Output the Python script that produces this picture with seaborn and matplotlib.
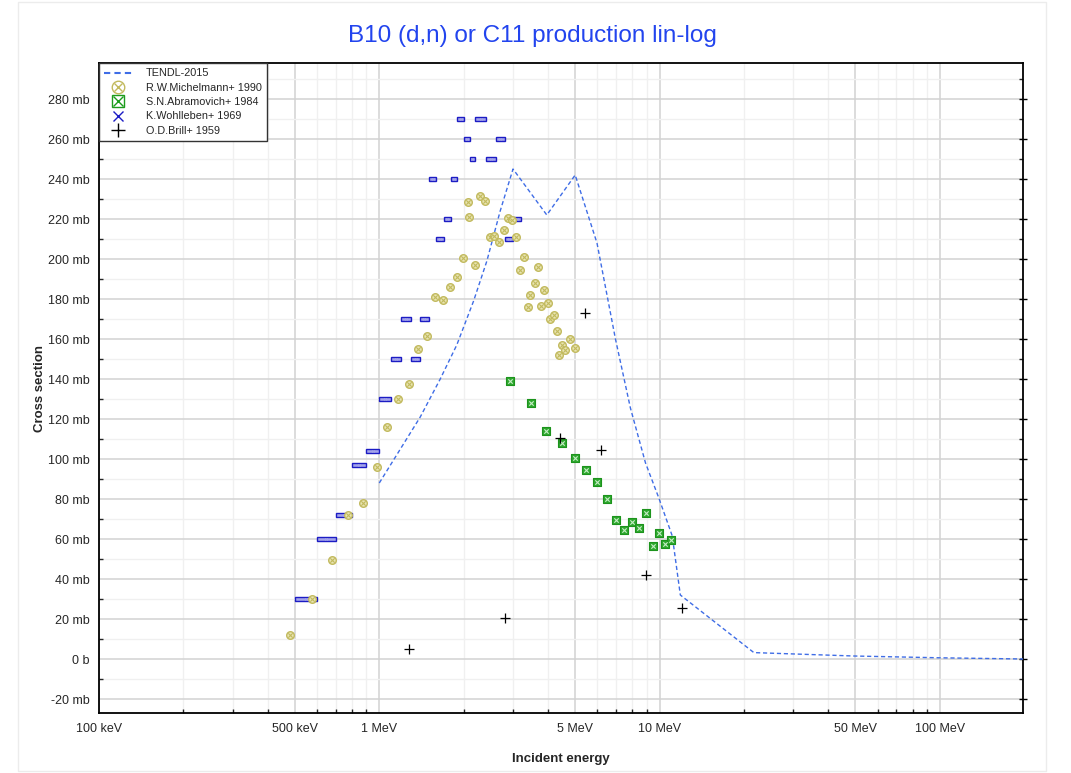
import numpy as np
import pandas as pd
import seaborn as sns
import matplotlib
matplotlib.use('Agg')
from matplotlib import pyplot as plt
from matplotlib.ticker import FixedLocator, MultipleLocator
from matplotlib.lines import Line2D
from matplotlib.patches import Rectangle
from matplotlib.legend_handler import HandlerTuple

# TENDL-2015 evaluation (energy in MeV, cross section in mb)
tendl_e = [1.0, 1.4, 1.65, 1.89, 2.17, 2.42, 2.70, 3.0, 3.96, 5.0, 5.98, 6.96,
           7.87, 8.91, 9.94, 11.1, 11.86, 21.7, 49.3, 100.0, 198.0]
tendl_xs = [88, 121, 140, 157, 179, 199, 224, 245, 222, 242, 208, 160,
            125.5, 98, 80.5, 61.5, 32, 3.2, 1.5, 0.6, 0.0]

# R.W.Michelmann+ 1990
mich_e = [0.479, 0.576, 0.676, 0.771, 0.874, 0.979, 1.065, 1.169, 1.274, 1.375,
          1.476, 1.577, 1.684, 1.784, 1.89, 1.986, 2.074, 2.086, 2.197, 2.284,
          2.385, 2.48, 2.57, 2.676, 2.78, 2.875, 2.97, 3.08, 3.17, 3.28,
          3.38, 3.45, 3.58, 3.68, 3.78, 3.88, 4.0, 4.08, 4.2, 4.29,
          4.38, 4.49, 4.59, 4.79, 5.0]
mich_xs = [12, 30, 49.5, 72, 78, 96, 116, 130, 137.5, 155,
           161.5, 181, 179.5, 186, 191, 200.5, 228.5, 221, 197, 231.5,
           229, 211, 211.5, 208.7, 214.3, 220.7, 219.5, 211, 194.5, 201,
           176, 182, 188, 196, 176.5, 184.7, 178, 170, 172, 164,
           152, 157, 154.5, 160, 155.7]

# S.N.Abramovich+ 1984
abra_e = [2.92, 3.47, 3.93, 4.48, 4.99, 5.47, 5.96, 6.47, 6.97, 7.48, 7.99,
          8.48, 8.97, 9.47, 9.98, 10.45, 10.95]
abra_xs = [138.8, 127.8, 113.8, 107.8, 100.7, 94.7, 88.5, 79.8, 69.5, 64.3,
           68.7, 65.5, 73, 56.3, 63.2, 57.3, 59.7]

# K.Wohlleben+ 1969 (energy bins)
wohl_lo = [0.5, 0.6, 0.7, 0.8, 0.9, 1.0, 1.1, 1.2, 1.3, 1.4, 1.5, 1.6, 1.7,
           1.8, 1.9, 2.0, 2.1, 2.2, 2.4, 2.6, 2.8, 3.0]
wohl_hi = [0.6, 0.7, 0.8, 0.9, 1.0, 1.1, 1.2, 1.3, 1.4, 1.5, 1.6, 1.7, 1.8,
           1.9, 2.0, 2.1, 2.2, 2.4, 2.6, 2.8, 3.0, 3.2]
wohl_xs = [30, 60, 72, 97, 104, 130, 150, 170, 150, 170, 240, 210, 220,
           240, 270, 260, 250, 270, 250, 260, 210, 220]
wohl_dxs = 1.1

# O.D.Brill+ 1959
brill_e = [1.277, 2.80, 4.42, 5.42, 6.16, 8.97, 12.05]
brill_xs = [4.8, 20.5, 110.7, 173, 104.7, 41.8, 25.7]

x_ticks = [0.1, 0.5, 1, 5, 10, 50, 100]
x_tick_labels = ['100 keV', '500 keV', '1 MeV', '5 MeV', '10 MeV', '50 MeV', '100 MeV']
y_ticks = list(range(-20, 281, 20))
y_tick_labels = ['0 b' if v == 0 else f'{v} mb' for v in y_ticks]

sns.set_style('white')
plt.rcParams['font.family'] = ['Liberation Sans', 'DejaVu Sans']

line_color = '#3f6de6'
mich_edge = '#c2ba5e'
mich_face = '#e9e5b2'
abra_face = '#2ea82e'
wohl_edge = '#1c1cc4'
wohl_face = '#a4a4ea'

fig, ax = plt.subplots(figsize=(10.71, 7.73), dpi=100)
fig.subplots_adjust(left=99/1071, right=1023/1071, top=1-63/773, bottom=1-713/773)

ax.set_xscale('log')

# TENDL line
tendl = pd.DataFrame({'E': tendl_e, 'xs': tendl_xs})
sns.lineplot(data=tendl, x='E', y='xs', ax=ax, color=line_color, lw=1,
             linestyle=(0, (3, 2)), sort=False, estimator=None, zorder=4)

# Wohlleben boxes
lo = np.array(wohl_lo)
hi = np.array(wohl_hi)
xs = np.array(wohl_xs)
ax.bar(lo, 2 * wohl_dxs, width=hi - lo, bottom=xs - wohl_dxs, align='edge',
       color=wohl_face, edgecolor=wohl_edge, linewidth=1.0, zorder=3)
sns.scatterplot(x=np.sqrt(lo * hi), y=xs, ax=ax, marker='x', color=wohl_face,
                s=3, linewidth=0.5, zorder=3)

# Michelmann circles with cross
sns.scatterplot(x=mich_e, y=mich_xs, ax=ax, marker='o', s=30, color=mich_face,
                edgecolor=mich_edge, linewidth=1, zorder=5)
sns.scatterplot(x=mich_e, y=mich_xs, ax=ax, marker='x', s=10, color=mich_edge,
                linewidth=0.8, zorder=6)

# Abramovich squares with cross
sns.scatterplot(x=abra_e, y=abra_xs, ax=ax, marker='s', s=34, color=abra_face,
                edgecolor='#1c931c', linewidth=0.8, zorder=5)
sns.scatterplot(x=abra_e, y=abra_xs, ax=ax, marker='x', s=10, color='#c6ecc6',
                linewidth=0.8, zorder=6)

# Brill crosses
sns.scatterplot(x=brill_e, y=brill_xs, ax=ax, marker='+', s=45, color='black',
                linewidth=0.9, zorder=6)

ax.set_xlim(0.1, 198)
ax.set_ylim(-27, 298)

ax.xaxis.set_major_locator(FixedLocator(x_ticks))
ax.set_xticklabels(x_tick_labels)
minor_x = [k * 10.0 ** n for n in range(-1, 3) for k in (2, 3, 4, 6, 7, 8, 9)]
ax.xaxis.set_minor_locator(FixedLocator(minor_x))
ax.yaxis.set_major_locator(FixedLocator(y_ticks))
ax.set_yticklabels(y_tick_labels)
ax.yaxis.set_minor_locator(MultipleLocator(10))

ax.grid(which='major', color='#d2d2d2', lw=1.1, zorder=0)
ax.grid(which='minor', color='#f0f0f0', lw=1, zorder=0)
ax.set_axisbelow(True)

ax.tick_params(which='major', direction='inout', length=6, width=1,
               labelsize=9, right=True, color='black', pad=4)
ax.tick_params(which='minor', direction='in', length=3, width=1, right=True,
               bottom=True, left=True)
for sp in ax.spines.values():
    sp.set_color('black')
    sp.set_linewidth(1.3)

ax.set_xlabel('Incident energy', fontsize=9.5, fontweight='bold', labelpad=13)
ax.set_ylabel('Cross section', fontsize=9.5, fontweight='bold', labelpad=1)
fig.suptitle('B10 (d,n) or C11 production lin-log', x=0.497, y=1 - 36/773,
             va='center', fontsize=17.5, color='#2244ee')

handles = [
    Line2D([], [], color=line_color, lw=1.5, linestyle=(0, (3, 2))),
    (Line2D([], [], marker='o', ls='', ms=9, mfc='none', mec=mich_edge, mew=1),
     Line2D([], [], marker='x', ls='', ms=6, mec=mich_edge, mew=1)),
    (Line2D([], [], marker='s', ls='', ms=9, mfc='none', mec='#1c9c1c', mew=1),
     Line2D([], [], marker='x', ls='', ms=7, mec='#1c9c1c', mew=1)),
    Line2D([], [], marker='x', ls='', ms=7, mec=wohl_edge, mew=1),
    Line2D([], [], marker='+', ls='', ms=10, mec='black', mew=1),
]
labels = ['TENDL-2015', 'R.W.Michelmann+ 1990', 'S.N.Abramovich+ 1984',
          'K.Wohlleben+ 1969', 'O.D.Brill+ 1959']
leg = ax.legend(handles, labels, loc='upper left', borderaxespad=0,
                handler_map={tuple: HandlerTuple(ndivide=1, pad=0)},
                fancybox=False, framealpha=1, edgecolor='#333333',
                fontsize=7.8, handlelength=2.5, handletextpad=1.3,
                labelspacing=0.4, borderpad=0.5)
leg.get_frame().set_linewidth(1)

fig.patches.append(Rectangle((18/1071, 2/773), 1028/1071, 1 - 4/773,
                             transform=fig.transFigure, fill=False,
                             edgecolor='#ececec', lw=1))

fig.savefig('out.png', dpi=100)
